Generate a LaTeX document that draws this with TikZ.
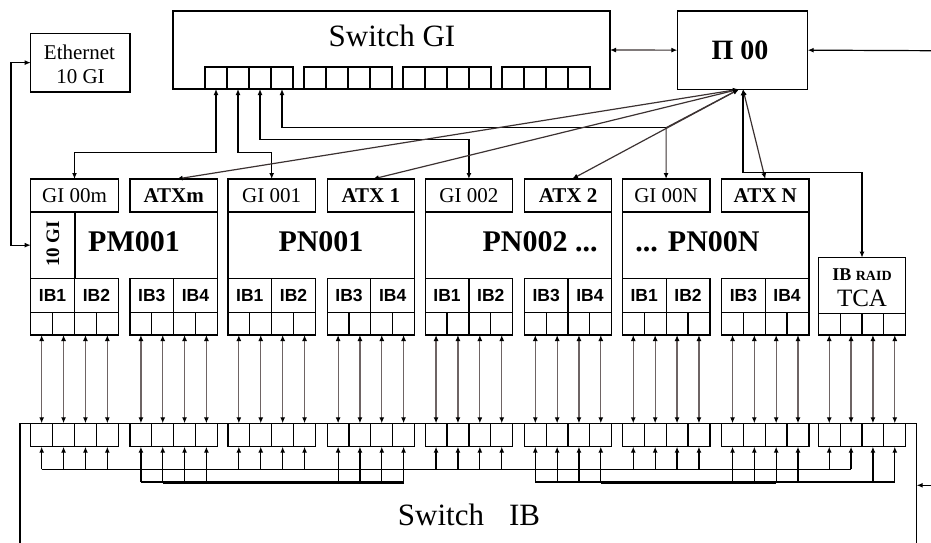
\documentclass[tikz,border=0pt]{standalone}
\usepackage{fontspec}
\setmainfont{Liberation Serif}
\newfontfamily\ibfont{Liberation Sans}
\usetikzlibrary{arrows.meta}
\definecolor{vline}{RGB}{110,100,100}
\definecolor{dline}{RGB}{60,50,50}
\newcommand\ibl{\ibfont\bfseries\fontsize{17.5}{17.5}\selectfont}
\newcommand\gil{\fontsize{21}{21}\selectfont}
\newcommand\atl{\bfseries\fontsize{21}{21}\selectfont}
\newcommand\pnl{\bfseries\fontsize{30}{30}\selectfont}
\begin{document}
\begin{tikzpicture}[x=1pt,y=-1pt,line width=1.2pt,
  box/.style={draw,inner sep=0pt,outer sep=0pt,anchor=north west},
  dbl/.style={{Latex[length=6pt,width=5pt,color=black]}-{Latex[length=6pt,width=5pt,color=black]}},
  one/.style={-{Latex[length=6pt,width=5pt,color=black]}},
  txt/.style={inner sep=0pt,outer sep=0pt}]
\useasboundingbox (0,0) rectangle (931,543);

% ---------- Switch GI ----------
\node[box,minimum width=437pt,minimum height=78pt] (swgi) at (173,11) {};
\node[txt,font=\fontsize{31}{31}\selectfont] (swgit) at (392,36) {Switch GI};
\foreach \g/\xs in {1/205,2/304,3/403,4/502}{
  \foreach \k in {0,1,2,3}{
    \node[box,minimum width=22pt,minimum height=22pt] (gp\g\k) at ({\xs+22*\k},67) {};
  }}

% ---------- Ethernet ----------
\node[box,minimum width=99.3pt,minimum height=58.7pt] (eth) at (30.7,33.3) {};
\node[txt,font=\fontsize{21}{21}\selectfont] (etht1) at (79.5,52.7) {Ethernet};
\node[txt,font=\fontsize{21}{21}\selectfont] (etht2) at (80.5,77) {10 GI};

% ---------- P00 ----------
\node[box,minimum width=130.4pt,minimum height=78.3pt] (p00) at (677.3,11) {};
\node[txt,font=\bfseries\fontsize{28}{28}\selectfont] (p00t) at (740,50.7) {П 00};

% ---------- modules ----------
\foreach \i/\gl/\al in {0/GI 00m/ATXm,1/GI 001/ATX 1,2/GI 002/ATX 2,3/GI 00N/ATX N}{
  \pgfmathsetmacro\xo{30.7+197.2*\i}
  \node[box,minimum width=87.6pt,minimum height=33pt,font=\gil] (gi\i) at (\xo,179) {\gl};
  \node[box,minimum width=87.3pt,minimum height=33pt,font=\atl] (atx\i) at ({\xo+99.3},179) {\al};
  \draw (gi\i.south west) -- ++(0,66.3);
  \draw (atx\i.south east) -- ++(0,66.3);
  \node[box,minimum width=43.8pt,minimum height=34pt,font=\ibl] (iba\i) at (\xo,278.3) {IB1};
  \node[box,minimum width=43.8pt,minimum height=34pt,font=\ibl] (ibb\i) at ({\xo+43.8},278.3) {IB2};
  \node[box,minimum width=43.65pt,minimum height=34pt,font=\ibl] (ibc\i) at ({\xo+99.3},278.3) {IB3};
  \node[box,minimum width=43.65pt,minimum height=34pt,font=\ibl] (ibd\i) at ({\xo+142.95},278.3) {IB4};
  \foreach \k in {0,1,2,3}{
    \node[box,minimum width=21.9pt,minimum height=22.7pt] (mp\i\k) at ({\xo+21.9*\k},312.3) {};
    \node[box,minimum width=21.9pt,minimum height=23.4pt] (sp\i\k) at ({\xo+21.9*\k},423.3) {};
  }
  \foreach \k in {4,5,6,7}{
    \node[box,minimum width=21.825pt,minimum height=22.7pt] (mp\i\k) at ({\xo+99.3+21.825*(\k-4)},312.3) {};
    \node[box,minimum width=21.825pt,minimum height=23.4pt] (sp\i\k) at ({\xo+99.3+21.825*(\k-4)},423.3) {};
  }
}
\node[box,minimum width=44.3pt,minimum height=66.3pt] (tengi) at (30.7,212) {};
\node[txt,rotate=90,font=\bfseries\fontsize{19}{19}\selectfont] (tengit) at (53,244) {10 GI};
\node[txt,font=\pnl] (n0) at (134,241.7) {PM001};
\node[txt,font=\pnl] (n1) at (321,241.7) {PN001};
\node[txt,font=\pnl] (n2) at (540,241.7) {PN002 ...};
\node[txt,font=\pnl] (n3) at (697.5,241.7) {... PN00N};

% ---------- IB RAID TCA ----------
\node[box,minimum width=87.4pt,minimum height=55.6pt] (tca) at (818.3,257.7) {};
\node[txt,font=\bfseries\fontsize{18}{18}\selectfont] (tcat1) at (862,275) {IB {\fontsize{14}{14}\selectfont RAID}};
\node[txt,font=\fontsize{25}{25}\selectfont] (tcat2) at (862,298.5) {TCA};
\foreach \k in {0,1,2,3}{
  \node[box,minimum width=21.85pt,minimum height=21.7pt] (mp4\k) at ({818.3+21.85*\k},313.3) {};
  \node[box,minimum width=21.85pt,minimum height=23.4pt] (sp4\k) at ({818.3+21.85*\k},423.3) {};
}

% ---------- Switch IB ----------
\node[box,minimum width=896.7pt,minimum height=150pt] (swib) at (20,423.3) {};
\node[txt,font=\fontsize{31}{31}\selectfont] (swibt) at (469,515) {Switch\hspace{25pt}IB};
\coordinate (ibin) at (931,485.3);
\draw[one] (ibin) -- (swib.east |- ibin);

% module <-> switch IB
\foreach \i in {0,1,2,3}{
  \foreach \k in {0,...,7}{
    \draw[vline,dbl] (mp\i\k.south) -- (sp\i\k.north);
  }}
\foreach \k in {0,...,3}{
  \draw[vline,dbl] (mp4\k.south) -- (sp4\k.north);
}

% bottom buses
\coordinate (yA) at (0,469.3);
\coordinate (yB) at (0,482);
\coordinate (yC) at (0,482.8);
\foreach \i in {0,1,2,3}{
  \foreach \k in {0,1,2,3}{
    \draw[one] (sp\i\k.south |- yA) -- (sp\i\k.south);
  }
  \foreach \k in {4,5,6,7}{
    \draw[one] (sp\i\k.south |- yB) -- (sp\i\k.south);
  }}
\draw[one] (sp40.south |- yA) -- (sp40.south);
\draw[one] (sp41.south |- yA) -- (sp41.south);
\draw[one] (sp42.south |- yB) -- (sp42.south);
\draw[one] (sp43.south |- yB) -- (sp43.south);
\draw (sp00.south |- yA) -- (sp41.south |- yA);
\draw (sp04.south |- yB) -- (sp17.south |- yB);
\draw (sp24.south |- yB) -- (sp43.south |- yB);
\draw[line width=2.4pt] (sp05.south |- yC) -- (sp17.south |- yC);
\draw[line width=2.4pt] (sp27.south |- yC) -- (sp36.south |- yC);

% ---------- top connectors ----------
\coordinate (ethx) at (11,0);
\draw[dbl] (eth.west) -- (eth.west -| ethx) |- (tengi.west);
\coordinate (rin) at (931,50.7);
\draw[one] (rin) -- (p00.east);
\draw[dline,dbl] (swgi.east) -- (p00.west);

\coordinate (h1) at (0,152.7);
\coordinate (h3) at (0,139.3);
\coordinate (h4) at (0,127.7);
\coordinate (hT) at (0,172.7);
\draw[dbl] (gp10.south) -- (gp10.south |- h1) -| (gi0.north);
\draw[dbl] (gp11.south) -- (gp11.south |- h1) -| (gi1.north);
\draw[dbl] (gp12.south) -- (gp12.south |- h3) -| (gi2.north);
\draw[one] (gi3.north |- h4) -- (gp13.south |- h4) -- (gp13.south);

\coordinate (apL) at (739,89.3);
\coordinate (apR) at (743,89.3);
\draw[dline,dbl] (apL) -- ([xshift=3pt]atx0.north);
\draw[dline,dbl] (apL) -- ([xshift=2pt]atx1.north);
\draw[dline,dbl] (apL) -- ([xshift=4pt]atx2.north);
\draw[dline,dbl] (apL) -- (gi3.north |- h4) -- (gi3.north);
\draw[dline,dbl] (apR) -- (atx3.north);
\draw[dbl] (apR) -- (apR |- hT) -| (tca.north);
\end{tikzpicture}
\end{document}
